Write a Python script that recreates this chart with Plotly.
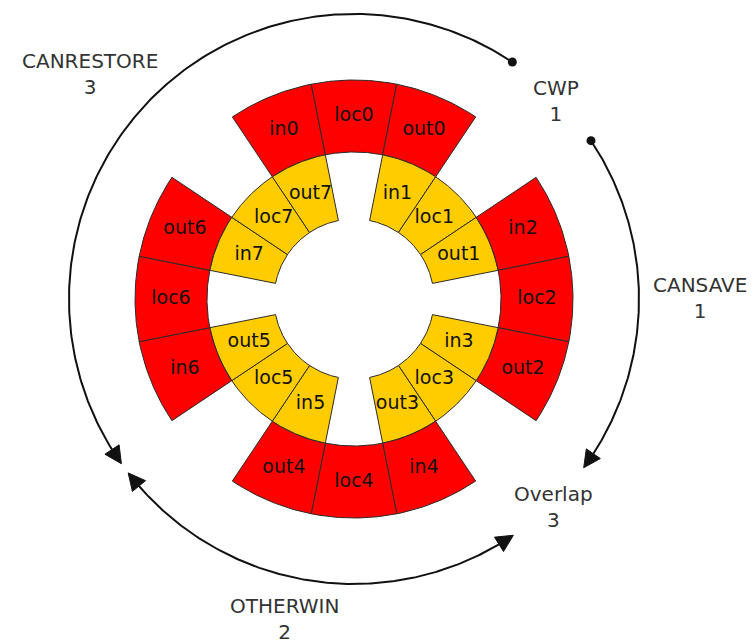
import numpy as np
import plotly.graph_objects as go

# ---- data -------------------------------------------------------------
WINDOWS = [0, 1, 2, 3, 4, 5, 6, 7]
SEGMENTS = ["in", "loc", "out"]
WINDOW_COLORS = ["#ff0000", "#ffcc00", "#ff0000", "#ffcc00",
                 "#ff0000", "#ffcc00", "#ff0000", "#ffcc00"]
COUNTER_NAMES = ["CANRESTORE", "CWP", "CANSAVE", "Overlap", "OTHERWIN"]
COUNTER_VALUES = [3, 1, 1, 3, 2]

# ---- geometry (pixel space, y downwards) ------------------------------
W, H = 755, 643
CX, CY = 354, 299
R_OUTER = (147, 219)     # even windows (red ring)
R_INNER = (80, 147)      # odd windows (yellow ring)
R_ARC = 285
SEG_DEG = 22.5
WIN_DEG = 45.0


def pt(r, ang):
    a = np.radians(ang)
    return CX + r * np.sin(a), CY - r * np.cos(a)


fig = go.Figure()

# ring segments
lab_x, lab_y, lab_t = [], [], []
for w in WINDOWS:
    r0, r1 = R_OUTER if w % 2 == 0 else R_INNER
    for j, s in enumerate(SEGMENTS):
        a0 = w * WIN_DEG + (j - 1.5) * SEG_DEG
        a1 = a0 + SEG_DEG
        ang = np.linspace(a0, a1, 40)
        xo, yo = pt(r1, ang)
        xi, yi = pt(r0, ang[::-1])
        xs = np.concatenate([xo, xi, xo[:1]])
        ys = np.concatenate([yo, yi, yo[:1]])
        fig.add_trace(go.Scatter(x=xs, y=ys, mode="lines", fill="toself",
                                 fillcolor=WINDOW_COLORS[w],
                                 line=dict(color="#2a2a2a", width=1),
                                 hoverinfo="skip", showlegend=False))
        mx, my = pt((r0 + r1) / 2, (a0 + a1) / 2)
        lab_x.append(mx)
        lab_y.append(my)
        lab_t.append(f"{s}{w}")

fig.add_trace(go.Scatter(x=lab_x, y=lab_y, text=lab_t, mode="text",
                         textfont=dict(family="DejaVu Sans", size=19, color="#111"),
                         hoverinfo="skip", showlegend=False))

# ---- counter arcs -------------------------------------------------------
ARC_COLOR = "#111111"
ARROW_LEN, ARROW_HALF = 17, 8.5


def arrow_tri(tip_ang, direction):
    tx, ty = pt(R_ARC, tip_ang)
    base_ang = tip_ang - direction * np.degrees(ARROW_LEN / R_ARC)
    bx, by = pt(R_ARC, base_ang)
    ux, uy = tx - bx, ty - by
    n = np.hypot(ux, uy)
    ux, uy = ux / n, uy / n
    px, py = -uy, ux
    xs = [tx, bx + ARROW_HALF * px, bx - ARROW_HALF * px, tx]
    ys = [ty, by + ARROW_HALF * py, by - ARROW_HALF * py, ty]
    return xs, ys, base_ang


def add_arc(a_start, a_end, start_kind, end_kind):
    direction = 1 if a_end > a_start else -1
    s, e = a_start, a_end
    tris = []
    if start_kind == "arrow":
        xs, ys, s = arrow_tri(a_start, -direction)
        tris.append((xs, ys))
    if end_kind == "arrow":
        xs, ys, e = arrow_tri(a_end, direction)
        tris.append((xs, ys))
    ang = np.linspace(s, e, 200)
    x, y = pt(R_ARC, ang)
    fig.add_trace(go.Scatter(x=x, y=y, mode="lines",
                             line=dict(color=ARC_COLOR, width=2),
                             hoverinfo="skip", showlegend=False))
    for xs, ys in tris:
        fig.add_trace(go.Scatter(x=xs, y=ys, mode="lines", fill="toself",
                                 fillcolor=ARC_COLOR,
                                 line=dict(color=ARC_COLOR, width=1),
                                 hoverinfo="skip", showlegend=False))
    if start_kind == "dot":
        dx, dy = pt(R_ARC, a_start)
        fig.add_trace(go.Scatter(x=[dx], y=[dy], mode="markers",
                                 marker=dict(color=ARC_COLOR, size=9),
                                 hoverinfo="skip", showlegend=False))


add_arc(33.75, -125.3, "dot", "arrow")     # CANRESTORE
add_arc(56.25, 126.3, "dot", "arrow")      # CANSAVE
add_arc(146.0, 232.4, "arrow", "arrow")    # OTHERWIN

# ---- counter labels -----------------------------------------------------
LABEL_POS = [(90, 74), (556, 101), (700, 298), (553, 507), (284, 619)]
for name, val, (lx, ly) in zip(COUNTER_NAMES, COUNTER_VALUES, LABEL_POS):
    fig.add_annotation(x=lx, y=ly, text=f"{name}<br>{val}", showarrow=False,
                       font=dict(family="DejaVu Sans", size=20, color="#333"),
                       align="center", xanchor="center", yanchor="middle")

fig.update_layout(width=W, height=H, margin=dict(l=0, r=0, t=0, b=0),
                  paper_bgcolor="white", plot_bgcolor="white",
                  xaxis=dict(range=[0, W], visible=False, fixedrange=True),
                  yaxis=dict(range=[H, 0], visible=False, fixedrange=True))

fig.write_html("out.html", config={"displayModeBar": False},
               post_script="document.body.style.margin='0';"
                           "document.body.style.overflow='hidden';")
